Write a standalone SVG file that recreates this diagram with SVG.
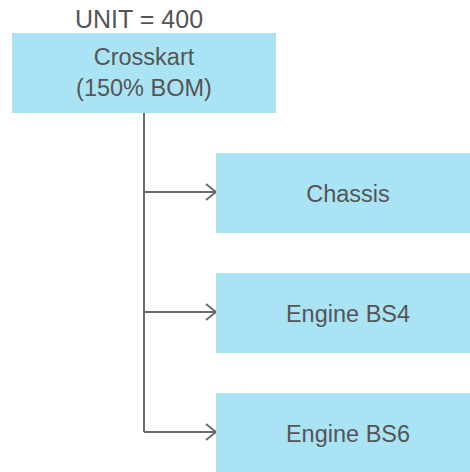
<svg xmlns="http://www.w3.org/2000/svg" width="470" height="472" viewBox="0 0 470 472">
<style>
.box{fill:#aae4f4}
.t{font-family:"Liberation Sans",Arial,sans-serif;font-size:23.5px;fill:#555555;text-anchor:middle}
.ln{fill:none;stroke:#6b6b6b;stroke-width:2}
</style>
<defs>
<marker id="arr" markerWidth="14" markerHeight="18" refX="11" refY="9" orient="auto" markerUnits="userSpaceOnUse">
<path d="M1,1 L11,9 L1,17" fill="none" stroke="#6b6b6b" stroke-width="2"/>
</marker>
</defs>
<rect width="470" height="472" fill="#ffffff"/>
<text class="t" x="139" y="28" style="font-size:25px">UNIT = 400</text>
<g id="connectors">
<path class="ln" d="M144,113 V432"/>
<path class="ln" d="M144,192 H216" marker-end="url(#arr)"/>
<path class="ln" d="M144,312 H216" marker-end="url(#arr)"/>
<path class="ln" d="M144,432 H216" marker-end="url(#arr)"/>
</g>
<g id="crosskart">
<rect class="box" x="12" y="33" width="264" height="80"/>
<text class="t" x="144" y="65">Crosskart</text>
<text class="t" x="144" y="96">(150% BOM)</text>
</g>
<g id="chassis">
<rect class="box" x="216" y="153" width="263" height="80"/>
<text class="t" x="348" y="202">Chassis</text>
</g>
<g id="engine-bs4">
<rect class="box" x="216" y="273" width="263" height="80"/>
<text class="t" x="348" y="322">Engine BS4</text>
</g>
<g id="engine-bs6">
<rect class="box" x="216" y="393" width="263" height="80"/>
<text class="t" x="348" y="442">Engine BS6</text>
</g>
</svg>
